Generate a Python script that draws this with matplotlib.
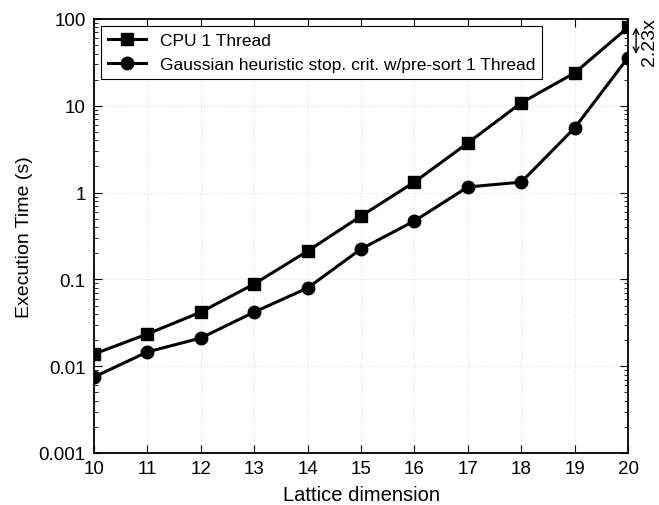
import matplotlib
matplotlib.use('Agg')
import matplotlib.pyplot as plt

plt.rcParams['font.family'] = ['Liberation Sans', 'DejaVu Sans']

# lattice dimensions and times (s)
dims = [10, 11, 12, 13, 14, 15, 16, 17, 18, 19, 20]
cpu_1t = [0.0138, 0.0235, 0.042, 0.0885, 0.212, 0.537, 1.32, 3.73, 10.8, 23.9, 80.0]
gauss_1t = [0.0075, 0.0146, 0.0211, 0.042, 0.0796, 0.224, 0.471, 1.16, 1.32, 5.55, 35.9]
ytick_vals = [0.001, 0.01, 0.1, 1, 10, 100]
ytick_labels = ['0.001', '0.01', '0.1', '1', '10', '100']

fig = plt.figure(figsize=(6.59, 5.06), dpi=100)
ax = fig.add_axes([0.1426, 0.1028, 0.8104, 0.8577])

ax.plot(dims, cpu_1t, 'k-', marker='s', markersize=9, linewidth=2.2,
        label='CPU 1 Thread')
ax.plot(dims, gauss_1t, 'k-', marker='o', markersize=9, linewidth=2.2,
        label='Gaussian heuristic stop. crit. w/pre-sort 1 Thread')

ax.set_yscale('log')
ax.set_ylim(0.001, 100)
ax.set_xlim(10, 20)
ax.set_xticks(dims)
ax.set_yticks(ytick_vals)
ax.set_yticklabels(ytick_labels)
ax.tick_params(which='both', direction='in', top=True, right=True, labelsize=13.5)
ax.tick_params(axis='y', pad=6)
ax.tick_params(axis='x', pad=5)
ax.tick_params(which='major', length=6)
ax.tick_params(which='minor', length=3)
for s in ax.spines.values():
    s.set_linewidth(1.3)
ax.grid(True, which='major', linestyle=':', color='#dddddd', linewidth=0.8)

ax.set_xlabel('Lattice dimension', fontsize=14.5, labelpad=6)
ax.set_ylabel('Execution Time (s)', fontsize=14, labelpad=4)

leg = ax.legend(loc='upper left', fontsize=12.5, fancybox=False, edgecolor='black',
                framealpha=1, borderaxespad=0.4, handlelength=2.2)
leg.get_frame().set_linewidth(0.8)

# speedup annotation at the last point
ratio = cpu_1t[-1] / gauss_1t[-1]
ax.annotate('', xy=(20.15, gauss_1t[-1] * 1.1), xytext=(20.15, cpu_1t[-1] * 1.0),
            xycoords='data', annotation_clip=False,
            arrowprops=dict(arrowstyle='<->', color='black', lw=1, shrinkA=0, shrinkB=0))
ax.text(20.40, (cpu_1t[-1] * gauss_1t[-1]) ** 0.5 * 1.05, '%.2fx' % ratio, rotation=90,
        fontsize=14, va='center', ha='center', clip_on=False)

fig.savefig('out.png', dpi=100)
